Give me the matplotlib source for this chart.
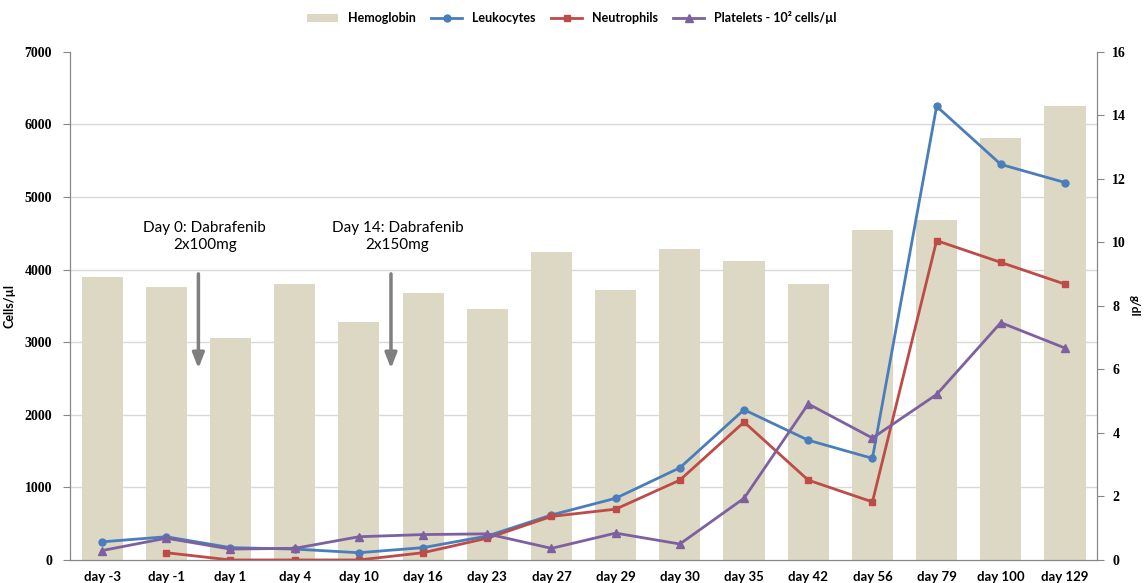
import matplotlib
matplotlib.use("Agg")
import matplotlib.pyplot as plt
import numpy as np

days = ["day -3", "day -1", "day 1", "day 4", "day 10", "day 16", "day 23", "day 27",
        "day 29", "day 30", "day 35", "day 42", "day 56", "day 79", "day 100", "day 129"]
hemoglobin = [8.9, 8.6, 7.0, 8.7, 7.5, 8.4, 7.9, 9.7, 8.5, 9.8, 9.4, 8.7, 10.4, 10.7, 13.3, 14.3]
leukocytes = [250, 320, 170, 150, 100, 170, 330, 620, 850, 1270, 2070, 1650, 1400, 6250, 5450, 5200]
neutrophils = [np.nan, 100, 0, 0, 0, 100, 300, 600, 700, 1100, 1900, 1100, 800, 4400, 4100, 3800]
platelets = [130, 300, 150, 160, 320, 350, 360, 160, 370, 220, 850, 2150, 1680, 2280, 3270, 2920]

plt.rcParams['font.family'] = ['Lato', 'DejaVu Sans']

x = np.arange(len(days))
fig = plt.figure(figsize=(11.44, 5.83), dpi=100)
ax_hb = fig.add_axes([0.0612, 0.0395, 0.8978, 0.8715])
ax = ax_hb.twinx()

# hemoglobin bars on the right-hand axis, drawn underneath
ax_hb.yaxis.tick_right()
ax_hb.yaxis.set_label_position("right")
ax_hb.bar(x, hemoglobin, width=0.64, color="#DDD8C4", label="Hemoglobin", zorder=2)
ax_hb.set_ylim(0, 16)
ax_hb.set_xlim(-0.5, len(days) - 0.5)
ax_hb.set_yticks(np.arange(0, 17, 2))
ax_hb.set_yticks(np.arange(8) * 16 / 7, minor=True)
ax_hb.tick_params(axis='y', which='minor', length=0)
ax_hb.grid(which='minor', axis='y', color="#D9D9D9", linewidth=1, zorder=0)
ax_hb.set_axisbelow(True)
ax_hb.set_ylabel("g/dl", rotation=270, fontsize=8.5, fontweight='bold', labelpad=10)
ax_hb.set_xticks(x)
ax_hb.set_xticklabels(days)
ax_hb.tick_params(axis='x', length=0, labelsize=9.5, pad=8)
ax_hb.tick_params(axis='y', which='major', length=5, color="#868686", labelsize=10, pad=6)
for lbl in ax_hb.get_yticklabels():
    lbl.set_fontfamily(['Liberation Serif'])
    lbl.set_fontweight('bold')
for lbl in ax_hb.get_xticklabels():
    lbl.set_fontweight('bold')

# cell counts on the left-hand axis
ax.yaxis.tick_left()
ax.yaxis.set_label_position("left")
ax.set_zorder(ax_hb.get_zorder() + 1)
ax.patch.set_visible(False)
ax.plot(x, leukocytes, color="#4A7EBB", marker='o', markersize=5, linewidth=2, label="Leukocytes")
ax.plot(x, neutrophils, color="#BE4B48", marker='s', markersize=5, linewidth=2, label="Neutrophils")
ax.plot(x, platelets, color="#7D60A0", marker='^', markersize=6, linewidth=2,
        label="Platelets - 10² cells/µl")
ax.set_ylim(0, 7000)
ax.set_yticks(np.arange(0, 7001, 1000))
ax.set_ylabel("Cells/µl", fontsize=9, fontweight='bold', labelpad=6)
ax.tick_params(axis='y', length=5, color="#868686", labelsize=10, pad=8)
for lbl in ax.get_yticklabels():
    lbl.set_fontfamily(['Liberation Serif'])
    lbl.set_fontweight('bold')

for a in (ax, ax_hb):
    a.spines['top'].set_visible(False)
    for s in ('left', 'right', 'bottom'):
        a.spines[s].set_color("#868686")

# treatment annotations
notes = [(1.5, "Day 0: Dabrafenib\n2x100mg"), (4.5, "Day 14: Dabrafenib\n2x150mg")]
for xpos, txt in notes:
    ax.annotate("", xy=(xpos, 2600), xytext=(xpos, 3980),
                arrowprops=dict(arrowstyle="-|>,head_width=0.35,head_length=0.9",
                                color="#7F7F7F", lw=2.5))
    ax.text(xpos + 0.1, 4460, txt, ha='center', va='center', fontsize=11, linespacing=1.3)

h1, l1 = ax_hb.get_legend_handles_labels()
h2, l2 = ax.get_legend_handles_labels()
fig.legend(h1 + h2, l1 + l2, loc='upper center', bbox_to_anchor=(0.5, 1.0), ncol=4,
           frameon=False, handlelength=2.5, columnspacing=1.2,
           prop={'weight': 'bold', 'size': 9})

fig.savefig("out.png", dpi=100)
